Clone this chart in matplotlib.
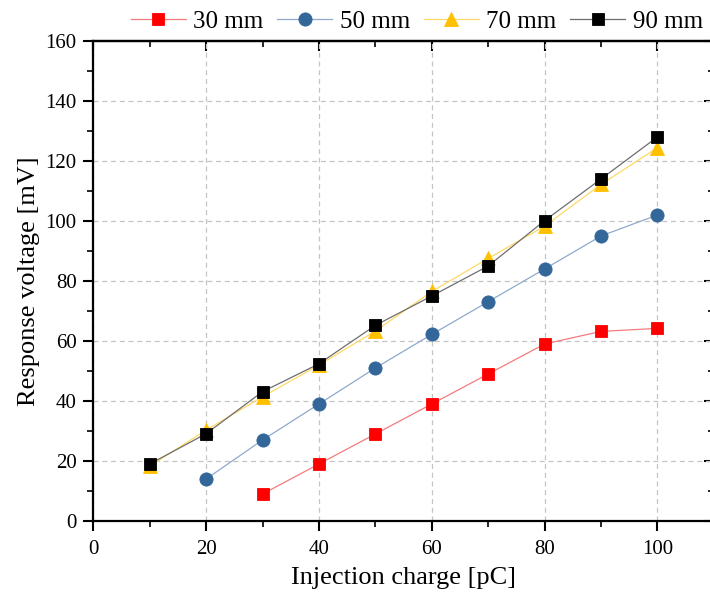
import numpy as np
import matplotlib
matplotlib.use("Agg")
import matplotlib.pyplot as plt
from matplotlib.ticker import MultipleLocator

plt.rcParams['font.family'] = ['Liberation Serif', 'DejaVu Serif']
plt.rcParams['mathtext.fontset'] = 'stix'

# injection charge [pC] and response voltage [mV] per distance
charge_30 = [30, 40, 50, 60, 70, 80, 90, 100]
volt_30 = [9, 19, 29, 39, 49, 59, 63.2, 64.2]

charge_50 = [20, 30, 40, 50, 60, 70, 80, 90, 100]
volt_50 = [14, 27, 39, 51, 62.2, 73.1, 84, 95, 102]

charge_70 = [10, 20, 30, 40, 50, 60, 70, 80, 90, 100]
volt_70 = [18.3, 30.3, 41.4, 52, 63.3, 76.5, 87.5, 98.3, 112.2, 124.4]

charge_90 = [10, 20, 30, 40, 50, 60, 70, 80, 90, 100]
volt_90 = [19, 29.1, 43.1, 52.4, 65.2, 75, 85, 100.1, 114, 128]

labels = ['30 mm', '50 mm', '70 mm', '90 mm']

fig = plt.figure(figsize=(7.1, 5.93), dpi=100)
ax = fig.add_axes([0.1314, 0.1214, 0.874, 0.8095])

series = [
    (charge_30, volt_30, 's', '#ff0000', '#f47c7c', 8.5),
    (charge_50, volt_50, 'o', '#336699', '#8eaacc', 9.5),
    (charge_70, volt_70, '^', '#ffc000', '#ffd966', 10),
    (charge_90, volt_90, 's', '#000000', '#6e6e6e', 8.5),
]
for (x, y, m, mc, lc, ms), lab in zip(series, labels):
    ax.plot(x, y, color=lc, lw=0.9, marker=m, ms=ms,
            markerfacecolor=mc, markeredgecolor=mc, markeredgewidth=0.6,
            label=lab)

ax.set_xlim(0, 110)
ax.set_ylim(0, 160)
ax.xaxis.set_major_locator(MultipleLocator(20))
ax.xaxis.set_minor_locator(MultipleLocator(10))
ax.yaxis.set_major_locator(MultipleLocator(20))
ax.yaxis.set_minor_locator(MultipleLocator(10))

ax.grid(True, which='major', color='#c4c4c4', ls=(0, (4, 3)), lw=0.9)
ax.set_axisbelow(True)

for sp in ax.spines.values():
    sp.set_linewidth(1.6)

ax.tick_params(which='major', direction='out', length=7, width=1.5,
               labelsize=15, pad=5, colors='black')
ax.tick_params(axis='x', which='major', pad=7)
ax.tick_params(which='minor', direction='out', length=4, width=1.2)

# mirrored ticks on top and right, pointing inward, no labels
top = ax.secondary_xaxis('top')
top.xaxis.set_major_locator(MultipleLocator(20))
top.xaxis.set_minor_locator(MultipleLocator(10))
top.tick_params(which='major', direction='in', length=7, width=1.5, labeltop=False)
top.tick_params(which='minor', direction='in', length=4, width=1.2)
top.spines['top'].set_linewidth(1.6)

right = ax.secondary_yaxis('right')
right.yaxis.set_major_locator(MultipleLocator(20))
right.yaxis.set_minor_locator(MultipleLocator(10))
right.tick_params(which='major', direction='in', length=7, width=1.5, labelright=False)
right.tick_params(which='minor', direction='in', length=4, width=1.2)
right.spines['right'].set_linewidth(1.6)

ax.set_xlabel('Injection charge [pC]', fontsize=19)
ax.set_ylabel('Response voltage [mV]', fontsize=19)
ax.xaxis.set_label_coords(0.5, -0.096)
ax.yaxis.set_label_coords(-0.086, 0.5)

fig.legend(loc='center', bbox_to_anchor=(0.587, 0.964), ncol=4, frameon=False,
           fontsize=18, handlelength=2.2, handletextpad=0.3, columnspacing=0.55,
           borderaxespad=0, borderpad=0)

fig.savefig('out.png', dpi=100)
